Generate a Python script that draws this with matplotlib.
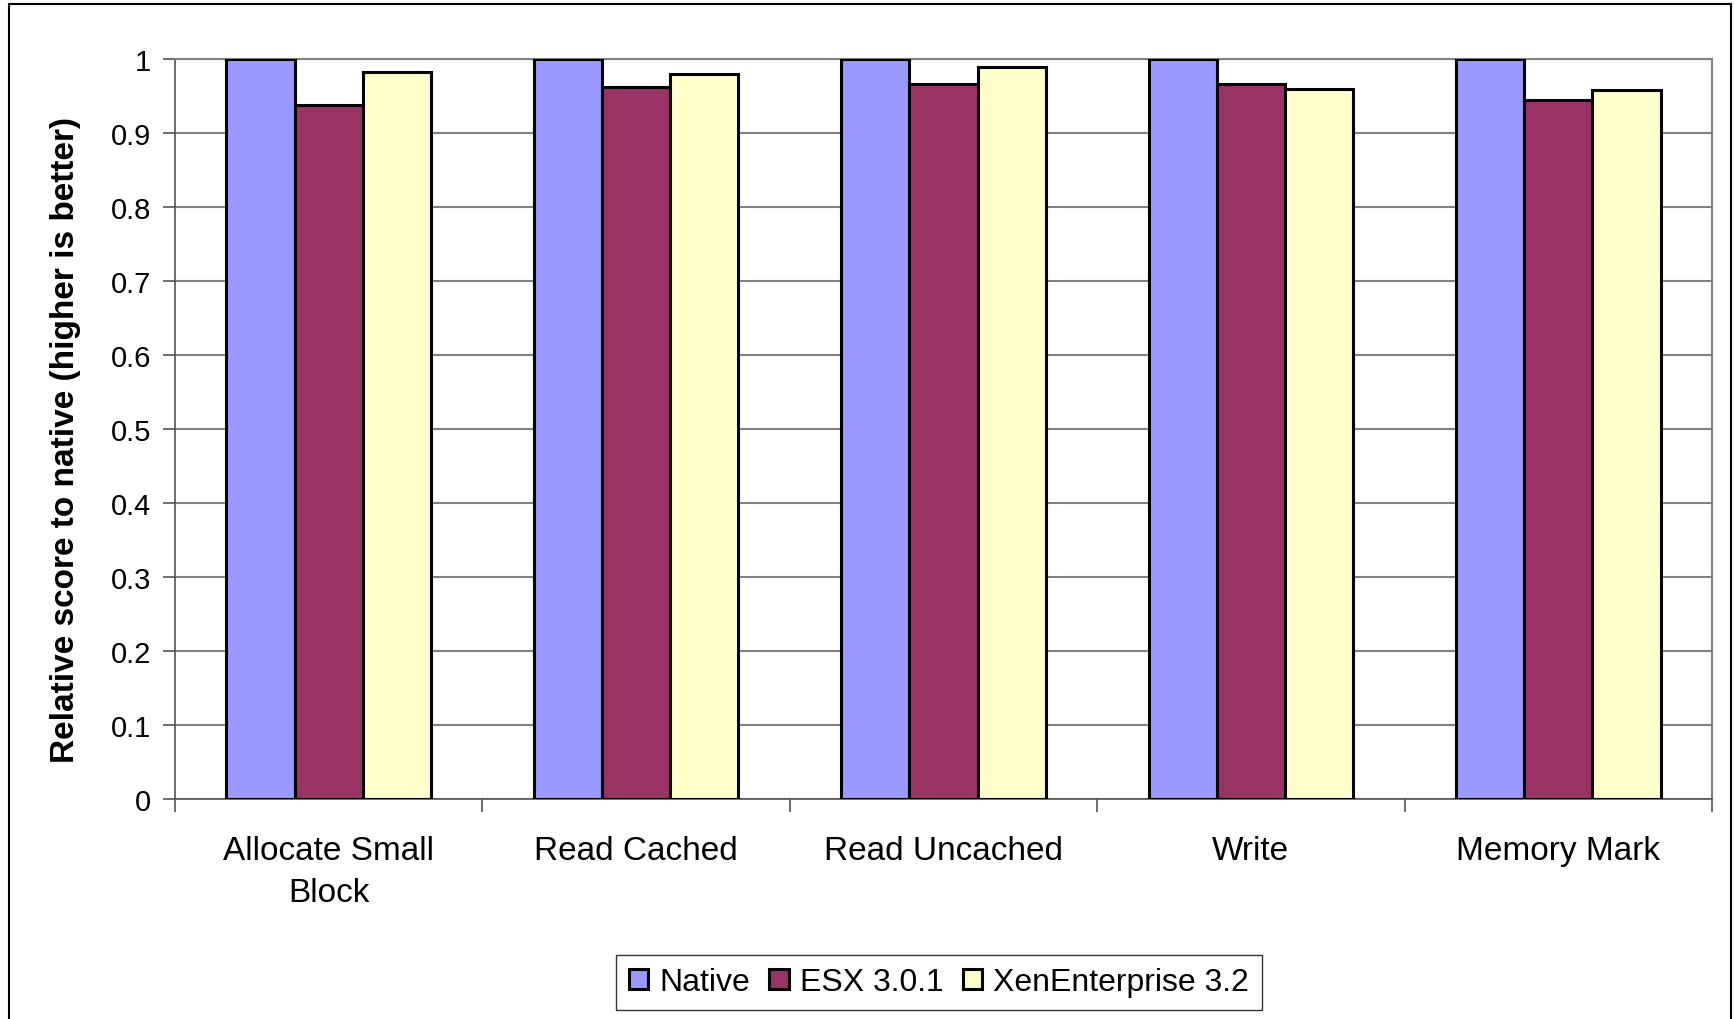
import numpy as np
import matplotlib.pyplot as plt
from matplotlib.patches import Rectangle

plt.rcParams["font.family"] = ["Liberation Sans", "DejaVu Sans"]

categories = ["Allocate Small\nBlock", "Read Cached", "Read Uncached", "Write", "Memory Mark"]
series = ["Native", "ESX 3.0.1", "XenEnterprise 3.2"]
native = [1.0, 1.0, 1.0, 1.0, 1.0]
esx = [0.938, 0.962, 0.966, 0.966, 0.945]
xen = [0.983, 0.980, 0.989, 0.959, 0.958]
colors = ["#9999FF", "#993366", "#FFFFCC"]
yticks = [0, 0.1, 0.2, 0.3, 0.4, 0.5, 0.6, 0.7, 0.8, 0.9, 1.0]
ytick_labels = ["0", "0.1", "0.2", "0.3", "0.4", "0.5", "0.6", "0.7", "0.8", "0.9", "1"]

fig = plt.figure(figsize=(17.34, 10.2), dpi=100)
ax = fig.add_axes([0.1009, 0.2157, 0.8864, 0.7255])

x = np.arange(len(categories))
w = 0.222
for i, (vals, name, c) in enumerate(zip([native, esx, xen], series, colors)):
    ax.bar(x + (i - 1) * w, vals, w, color=c, edgecolor="black", linewidth=2.2,
           label=name, zorder=3)

ax.set_xlim(-0.5, len(categories) - 0.5)
ax.set_ylim(0, 1.0)
ax.set_yticks(yticks)
ax.set_yticklabels(ytick_labels, fontsize=21)
ax.yaxis.grid(True, color="#808080", linewidth=1.5, zorder=0)

ax.set_xticks(np.arange(len(categories) + 1) - 0.5)
ax.set_xticklabels([])
ax.set_xticks(x, minor=True)
ax.set_xticklabels(categories, minor=True, fontsize=24, linespacing=1.45)
ax.tick_params(axis="x", which="major", length=9, width=1.2, color="#555555", direction="out")
ax.tick_params(axis="x", which="minor", length=0, pad=26)
ax.tick_params(axis="y", length=9, width=1.2, color="#555555", pad=8)

for side in ["top", "right"]:
    ax.spines[side].set_color("#808080")
    ax.spines[side].set_linewidth(1.5)
ax.spines["left"].set_color("#555555")
ax.spines["bottom"].set_color("#555555")
ax.spines["left"].set_linewidth(1.2)
ax.spines["bottom"].set_linewidth(1.2)

ax.set_ylabel("Relative score to native (higher is better)", fontsize=24,
              fontweight="bold")
ax.yaxis.set_label_coords(-0.0613, 0.486)

leg = fig.legend(loc="center", bbox_to_anchor=(0.5415, 0.036), ncol=3,
                 fontsize=23, frameon=True, fancybox=False, edgecolor="black",
                 handlelength=0.6, handleheight=0.6, handletextpad=0.35,
                 columnspacing=0.6, borderpad=0.4)
leg.get_frame().set_linewidth(1.0)

fig.patches.append(Rectangle((9 / 1734, -0.02), 1722 / 1734, 1.0 - 5 / 1020 + 0.02,
                             transform=fig.transFigure, fill=False,
                             edgecolor="black", linewidth=1.5))

fig.savefig("out.png", dpi=100)
